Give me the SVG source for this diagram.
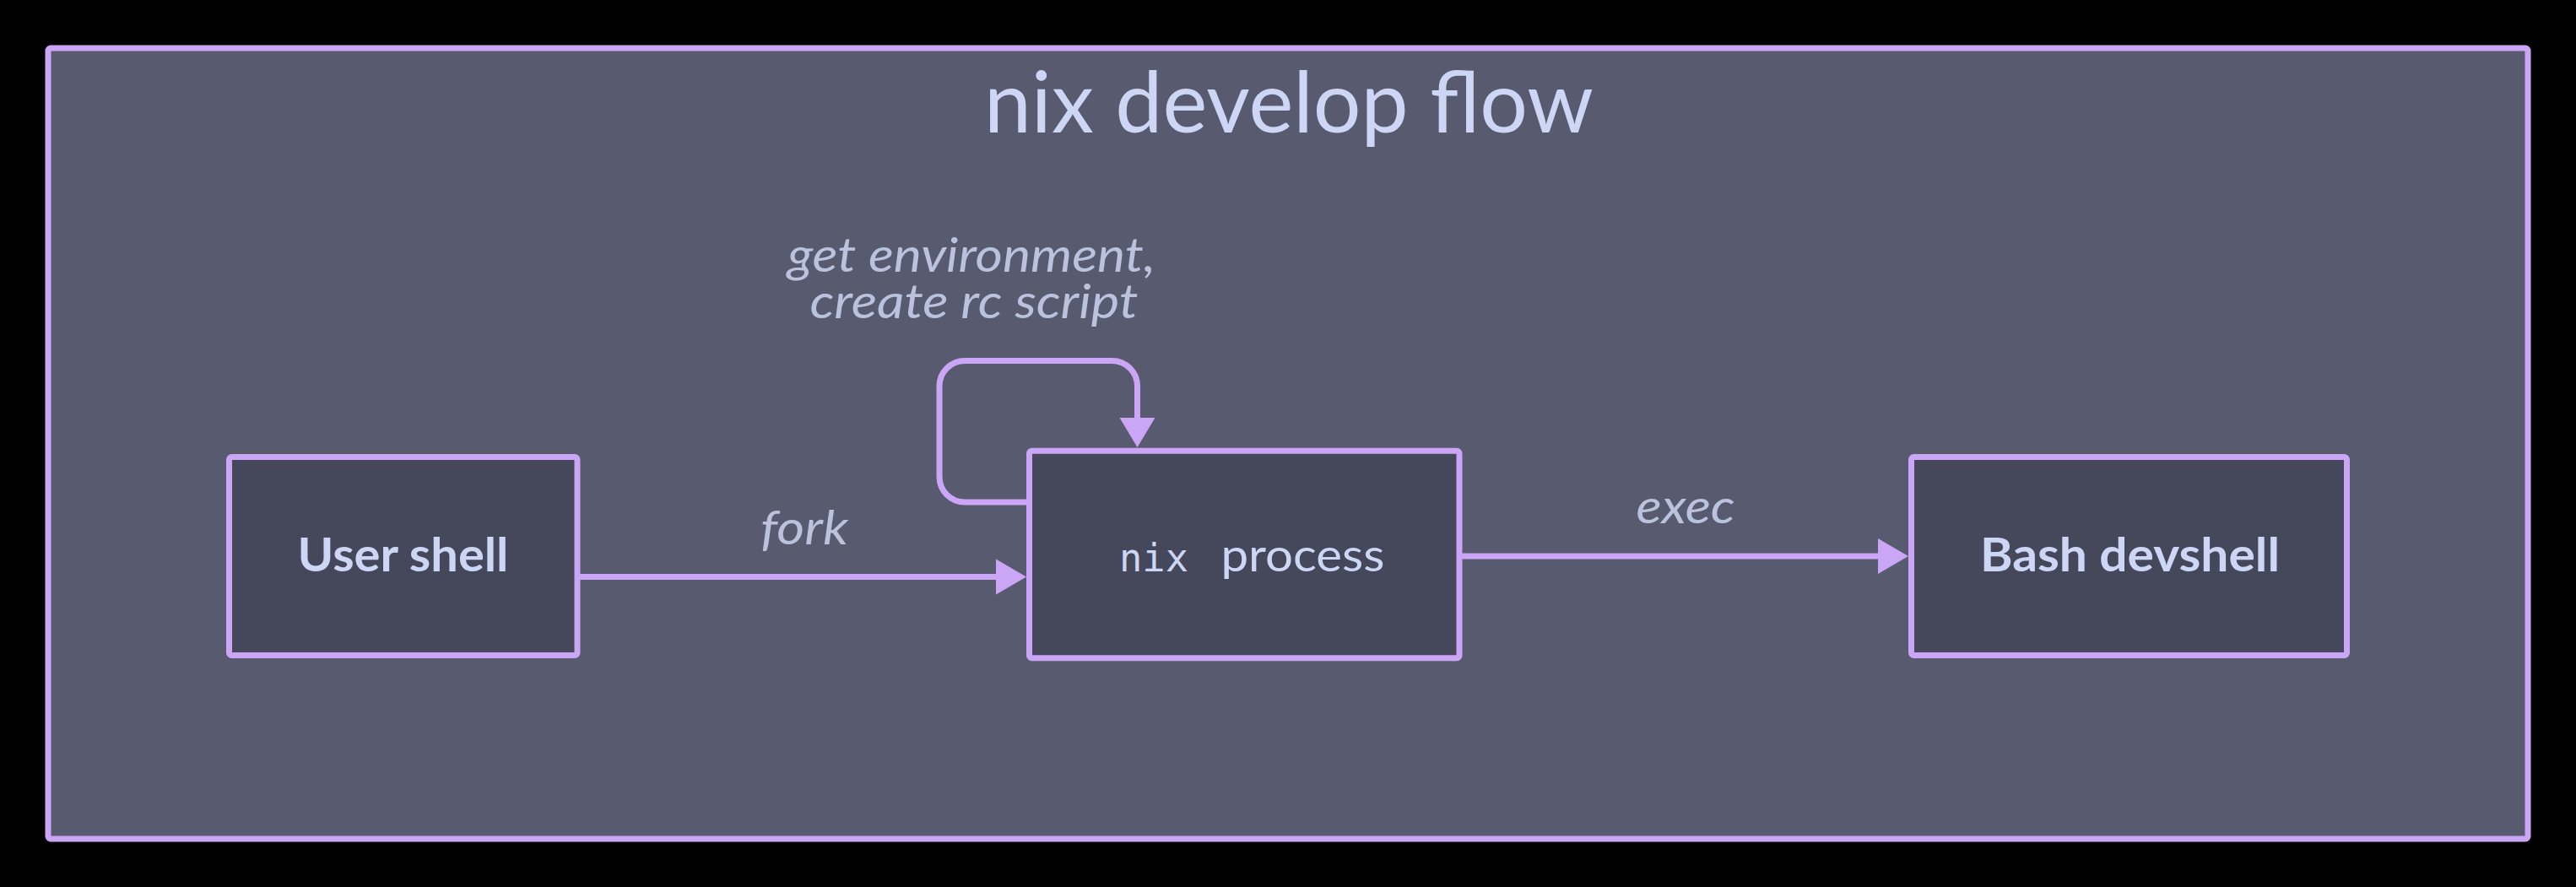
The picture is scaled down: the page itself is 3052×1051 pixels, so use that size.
<svg xmlns="http://www.w3.org/2000/svg" width="3052" height="1051" viewBox="0 0 3052 1051">
  <style>
    .frame { fill: #585b70; stroke: #cba6f7; stroke-width: 7; }
    .node { fill: #45475a; stroke: #cba6f7; stroke-width: 7; }
    .edge { fill: none; stroke: #cba6f7; stroke-width: 7; stroke-linecap: round; stroke-linejoin: round; }
    .head { fill: #cba6f7; stroke: none; }
    .title { font-family: Lato, "Liberation Sans", sans-serif; font-size: 100px; fill: #cdd6f4; text-anchor: middle; }
    .nlabel { font-family: Lato, "Liberation Sans", sans-serif; font-weight: bold; font-size: 55px; fill: #cdd6f4; text-anchor: middle; }
    .plain { font-family: Lato, "Liberation Sans", sans-serif; font-size: 55px; fill: #cdd6f4; text-anchor: middle; }
    .mono { font-family: "DejaVu Sans Mono", "Liberation Mono", monospace; font-size: 46px; fill: #cdd6f4; text-anchor: middle; }
    .elabel { font-family: Lato, "Liberation Sans", sans-serif; font-style: italic; font-size: 56px; fill: #bac2de; text-anchor: middle; }
  </style>
  <rect x="0" y="0" width="3052" height="1051" fill="#000000"/>
  <g id="frame">
    <rect class="frame" x="57" y="57" width="2938" height="937" rx="3"/>
    <text class="title" x="1527" y="157" textLength="722" lengthAdjust="spacingAndGlyphs">nix develop flow</text>
  </g>
  <g id="connectors">
    <g id="edge-fork">
      <path class="edge" d="M687,683.5 H1182"/>
      <polygon class="head" points="1216,683.5 1180,662.5 1180,704.5"/>
      <text class="elabel" x="953" y="645" textLength="104" lengthAdjust="spacingAndGlyphs">fork</text>
    </g>
    <g id="edge-loop">
      <path class="edge" d="M1216,595 H1143 A30,30 0 0 1 1113,565 V457.5 A30,30 0 0 1 1143,427.5 H1317.5 A30,30 0 0 1 1347.5,457.5 V497"/>
      <polygon class="head" points="1347.5,530 1326.5,495 1368.5,495"/>
      <text class="elabel" x="1151" y="322" textLength="436" lengthAdjust="spacingAndGlyphs">get environment,</text>
      <text class="elabel" x="1154" y="377" textLength="389" lengthAdjust="spacingAndGlyphs">create rc script</text>
    </g>
    <g id="edge-exec">
      <path class="edge" d="M1733,659 H2227"/>
      <polygon class="head" points="2261,659 2225,638 2225,680"/>
      <text class="elabel" x="1997" y="620" textLength="117" lengthAdjust="spacingAndGlyphs">exec</text>
    </g>
  </g>
  <g id="node-user-shell">
    <rect class="node" x="271.5" y="541.5" width="412.5" height="235" rx="3"/>
    <text class="nlabel" x="477.5" y="677" textLength="250" lengthAdjust="spacingAndGlyphs">User shell</text>
  </g>
  <g id="node-nix-process">
    <rect class="node" x="1219.5" y="534.3" width="509.5" height="245.4" rx="3"/>
    <text class="mono" x="1367" y="677" textLength="82" lengthAdjust="spacingAndGlyphs">nix</text>
    <text class="plain" x="1543.5" y="677" textLength="194" lengthAdjust="spacingAndGlyphs">process</text>
  </g>
  <g id="node-bash-devshell">
    <rect class="node" x="2264.5" y="541.5" width="516" height="235" rx="3"/>
    <text class="nlabel" x="2523.5" y="677" textLength="355" lengthAdjust="spacingAndGlyphs">Bash devshell</text>
  </g>
</svg>
